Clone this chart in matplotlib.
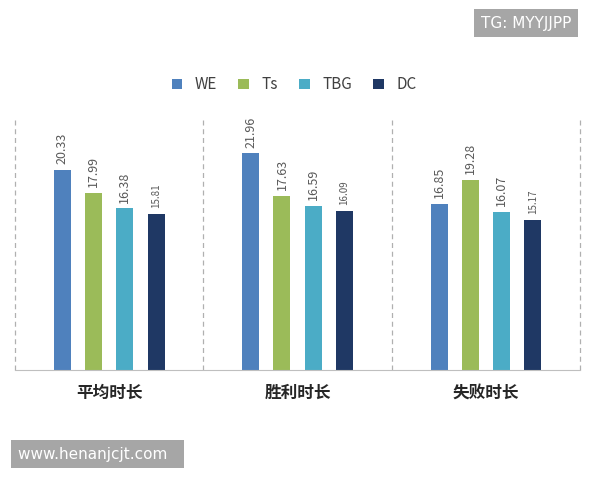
import matplotlib
matplotlib.use("Agg")
import matplotlib.pyplot as plt
import numpy as np

plt.rcParams['font.family'] = ['Noto Sans CJK SC', 'DejaVu Sans']

categories = ['平均时长', '胜利时长', '失败时长']
series = ['WE', 'Ts', 'TBG', 'DC']
WE = [20.33, 21.96, 16.85]
Ts = [17.99, 17.63, 19.28]
TBG = [16.38, 16.59, 16.07]
DC = [15.81, 16.09, 15.17]
colors = ['#4F81BD', '#9BBB59', '#4BACC6', '#1F3864']

fig = plt.figure(figsize=(6, 4.8), dpi=100)
ax = fig.add_axes([0.025, 0.229, 0.942, 0.52])
x = np.arange(len(categories))
offs = [-0.249, -0.083, 0.083, 0.249]
for vals, name, c, o in zip([WE, Ts, TBG, DC], series, colors, offs):
    ax.bar(x + o, vals, width=0.09, color=c, label=name)
    for xi, v in zip(x, vals):
        ax.text(xi + o, v + 0.6, f'{v:.2f}', rotation=90, ha='center', va='bottom',
                fontsize=9 if name != 'DC' else 7, color='#595959')
ax.set_xlim(-0.5, 2.5)
ax.set_ylim(0, 25.3)
for b in [-0.5, 0.5, 1.5, 2.5]:
    ax.axvline(b, color='#B0B0B0', ls=(0, (4, 3)), lw=0.9, clip_on=False)
for s in ['top', 'left', 'right']:
    ax.spines[s].set_visible(False)
ax.spines['bottom'].set_color('#BFBFBF')
ax.set_yticks([])
ax.set_xticks(x)
ax.set_xticklabels(categories, fontsize=12, fontweight='bold', color='#262626')
ax.tick_params(axis='x', length=0, pad=10)
fig.legend(loc='center', bbox_to_anchor=(0.49, 0.823), ncol=4, frameon=False,
           fontsize=11, handlelength=0.7, handleheight=0.7, columnspacing=1.4,
           labelcolor='#404040')
fig.text(0.952, 0.952, 'TG: MYYJJPP', ha='right', va='center', fontsize=11, color='white',
         family=['DejaVu Sans'], bbox=dict(facecolor='#A6A6A6', edgecolor='none', pad=5))
fig.text(0.03, 0.054, 'www.henanjcjt.com  ', ha='left', va='center', fontsize=11, color='white',
         family=['DejaVu Sans'], bbox=dict(facecolor='#A6A6A6', edgecolor='none', pad=5))
fig.savefig('out.png')
